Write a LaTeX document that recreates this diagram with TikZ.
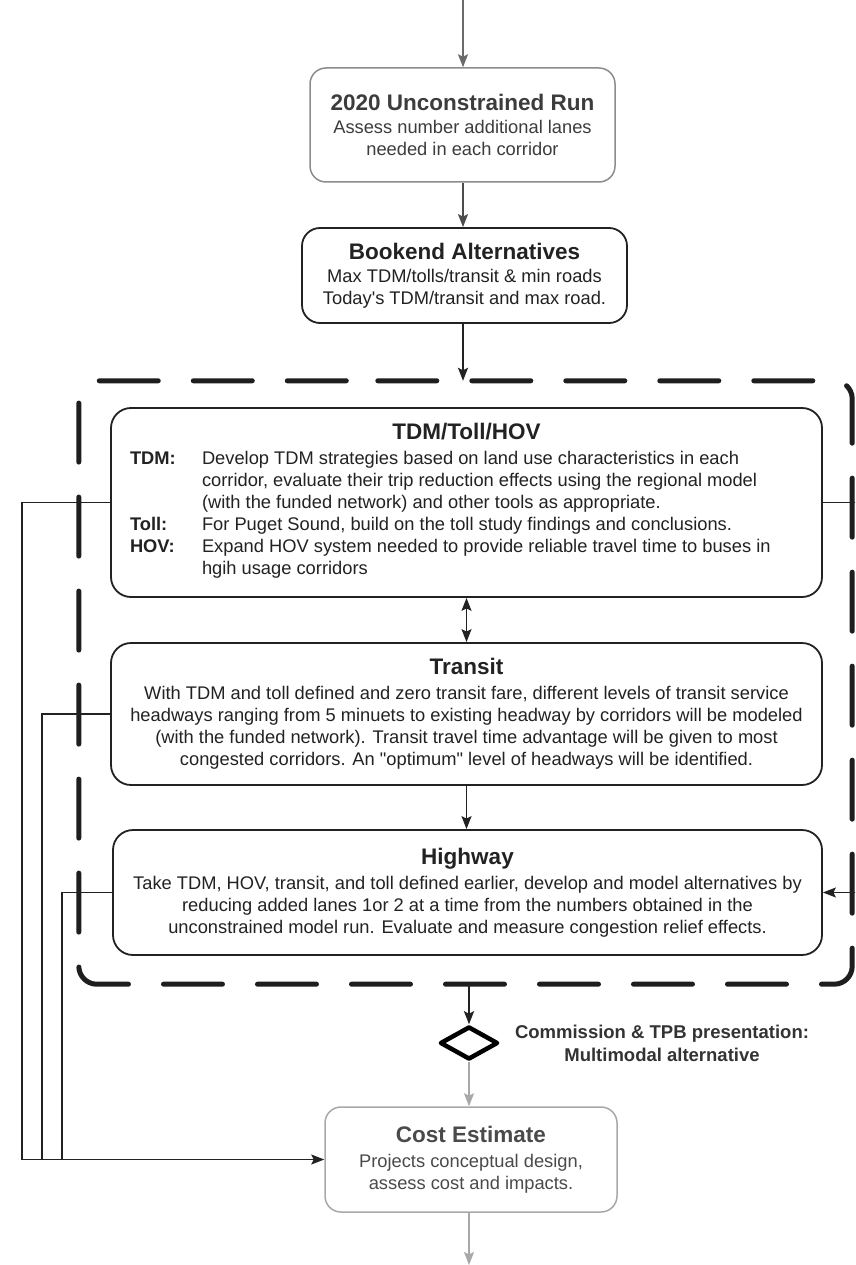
\documentclass[tikz,border=0pt]{standalone}
\usepackage{fontspec}
\setmainfont{Liberation Sans}
\usetikzlibrary{arrows.meta,shapes.geometric,calc}
\definecolor{ink}{HTML}{222222}
\definecolor{dashink}{HTML}{1E1E1E}
\definecolor{soft}{HTML}{8C8C8C}
\definecolor{pale}{HTML}{A8A8A8}
\definecolor{txtsoft}{HTML}{3C3C3C}
\definecolor{txtpale}{HTML}{4A4A4A}
\definecolor{arrgray}{HTML}{6A6A6A}
\definecolor{arrmid}{HTML}{4C4C4C}
\definecolor{lbl}{HTML}{333333}
\newcommand{\ttl}{\fontsize{22.5}{26}\selectfont\bfseries}
\newcommand{\bodyfont}{\fontsize{18.3}{22}\selectfont}
\begin{document}
\begin{tikzpicture}[x=1pt,y=-1pt,
  box/.style={draw=ink, line width=1.8pt, rounded corners=18pt, inner sep=0pt, align=center, text=ink, font=\bodyfont},
  tip/.tip={Stealth[length=13pt,width=10pt,inset=2.5pt]},
  arr/.style={line width=1.4pt, draw=ink, -tip},
  dbl/.style={line width=1.4pt, draw=ink, tip-tip},
  conn/.style={line width=1.2pt, draw=ink},
  dashframe/.style={draw=dashink, line width=5pt, rounded corners=18pt, dash pattern=on 59pt off 35pt, line cap=round},
  lbltext/.style={font=\fontsize{18.5}{23}\selectfont\bfseries, text=lbl, align=center}]
\useasboundingbox (0,0) rectangle (855,1265);
\fill[white] (0,0) rectangle (855,1265);
\clip (0,0) rectangle (855,1265);

% nodes
\node[box, draw=soft, line width=1.5pt, rounded corners=16pt, minimum width=305pt, minimum height=114pt, text=txtsoft] (run) at (462.5,125)
  {{\ttl 2020 Unconstrained Run}\\[1.5pt] Assess number additional lanes\\ needed in each corridor};
\node[box, minimum width=325pt, minimum height=95pt] (book) at (464.5,275.5)
  {{\ttl Bookend Alternatives}\\[1.5pt] Max TDM/tolls/transit \& min roads\\ Today\textquotesingle s TDM/transit and max road.};
\node[minimum width=773pt, minimum height=603pt, inner sep=0pt] (frame) at (465.5,682.5) {};
\node[box, minimum width=711pt, minimum height=189pt, rounded corners=20pt] (tdm) at (466.5,502.5)
  {\begin{tabular}{@{}p{72pt}@{}p{601pt}@{}}
   \multicolumn{2}{@{}c@{}}{\ttl TDM/Toll/HOV}\\[3pt]
   \textbf{TDM:} & Develop TDM strategies based on land use characteristics in each\\
   & corridor, evaluate their trip reduction effects using the regional model\\
   & (with the funded network) and other tools as appropriate.\\
   \textbf{Toll:} & For Puget Sound, build on the toll study findings and conclusions.\\
   \textbf{HOV:} & Expand HOV system needed to provide reliable travel time to buses in\\
   & hgih usage corridors
   \end{tabular}};
\node[box, minimum width=711pt, minimum height=142pt, rounded corners=20pt] (transit) at (466.5,714)
  {{\ttl Transit}\\[3pt]
   With TDM and toll defined and zero transit fare, different levels of transit service\\
   headways ranging from 5 minuets to existing headway by corridors will be modeled\\
   (with the funded network). Transit travel time advantage will be given to most\\
   congested corridors. An \textquotedbl optimum\textquotedbl\ level of headways will be identified.};
\node[box, minimum width=709pt, minimum height=125pt, rounded corners=20pt] (hwy) at (467.5,892.5)
  {{\ttl Highway}\\[3pt]
   Take TDM, HOV, transit, and toll defined earlier, develop and model alternatives by\\
   reducing added lanes 1or 2 at a time from the numbers obtained in the\\
   unconstrained model run. Evaluate and measure congestion relief effects.};
\node[diamond, draw=black, line width=4.5pt, minimum width=58pt, minimum height=33pt, inner sep=0pt, line join=round] (dec) at (469,1043) {};
\node[lbltext] (comm) at (662,1043.5) {Commission \& TPB presentation:\\ Multimodal alternative};
\node[box, draw=pale, line width=1.5pt, rounded corners=16pt, minimum width=292pt, minimum height=105pt, text=txtpale] (cost) at (471,1159.5)
  {{\ttl Cost Estimate}\\[3pt] Projects conceptual design,\\ assess cost and impacts.};

% dashed frame
\draw[dashframe] ([xshift=281pt]frame.north west) -| (frame.south east) -| (frame.north west) -- cycle;

% main flow
\coordinate (src) at (463,0);
\draw[arr, draw=arrgray] (src) -- (src |- run.north);
\draw[arr, draw=arrmid] (src |- run.south) -- (src |- book.north);
\draw[arr] (src |- book.south) -- (src |- frame.north);
\draw[dbl] (tdm.south) -- (tdm.south |- transit.north);
\draw[arr] (transit.south) -- (transit.south |- hwy.north);
\draw[arr, line width=2.5pt] (dec.north |- frame.south) -- (dec.north);
\draw[arr, draw=pale] (dec.south) -- (dec.south |- cost.north);
\coordinate (sink) at (469,1265);
\draw[arr, draw=pale] (sink |- cost.south) -- (sink);

% side connectors
\coordinate (la) at (22,0);
\coordinate (lb) at (42,0);
\coordinate (lc) at (62,0);
\coordinate (ra) at (872,0);
\draw[conn, -tip] (tdm.west) -| (la |- cost.west) -- (cost.west);
\draw[conn] (transit.west) -| (lb |- cost.west);
\draw[conn] (hwy.west) -| (lc |- cost.west);
\draw[conn, -tip] (tdm.east) -| (ra |- hwy.east) -- (hwy.east);
\end{tikzpicture}
\end{document}
